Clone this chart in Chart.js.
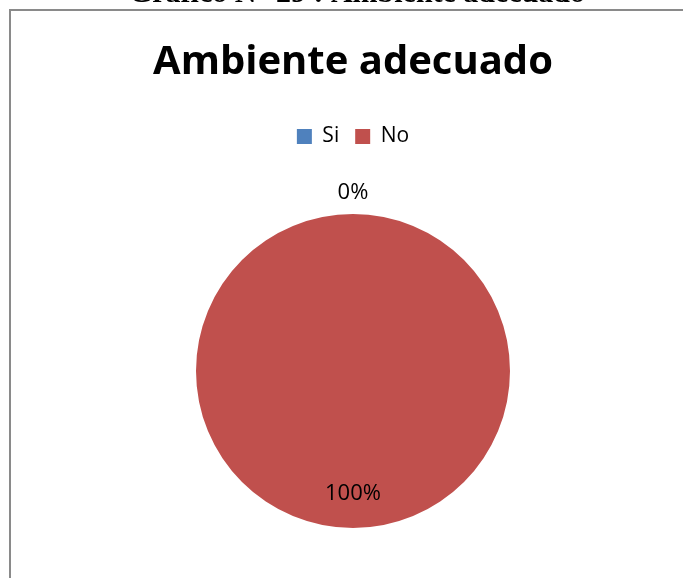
<!DOCTYPE html>
<html>
<head>
<meta charset="utf-8">
<script src="https://cdn.jsdelivr.net/npm/chart.js@4.4.1/dist/chart.umd.min.js"></script>
<style>
  html, body { margin: 0; padding: 0; background: #fff; }
  #wrap { position: relative; width: 683px; height: 578px; overflow: hidden; }
  #frame { position: absolute; left: 9px; top: 9px; width: 700px; height: 600px;
           border-left: 2px solid #8a8a8a; border-top: 2px solid #8a8a8a; }
  canvas { position: absolute; left: 0; top: 0; }
</style>
</head>
<body>
<div id="wrap">
  <div id="frame"></div>
  <canvas id="chart_ambiente" width="683" height="578"></canvas>
</div>
<script>
let labels = ['Si', 'No'];
let values = [0, 100];
let colors = ['#4F81BD', '#C0504D'];
let heading = 'Gráfico N° 29 : Ambiente adecuado';
let chartTitle = 'Ambiente adecuado';

let total = values.reduce((a, b) => a + b, 0);
let labelFont = "'Open Sans', 'Noto Sans', sans-serif";

// clipped heading above the frame
let headingPlugin = {
  id: 'heading',
  beforeDraw(chart) {
    let ctx = chart.ctx;
    ctx.save();
    ctx.font = "bold 30px 'Liberation Serif', 'Times New Roman', serif";
    ctx.fillStyle = '#000';
    ctx.textAlign = 'center';
    ctx.textBaseline = 'alphabetic';
    ctx.fillText(heading, 357, 2);
    ctx.restore();
  }
};

// leave room between legend and pie
let legendGap = {
  id: 'legendGap',
  beforeInit(chart) {
    let fit = chart.legend.fit;
    chart.legend.fit = function() {
      fit.bind(chart.legend)();
      this.height += 57;
    };
  }
};

// percentage labels, 0% outside, others inside
let percentPlugin = {
  id: 'percentLabels',
  afterDatasetsDraw(chart) {
    let ctx = chart.ctx;
    let meta = chart.getDatasetMeta(0);
    ctx.save();
    ctx.font = '22px ' + labelFont;
    ctx.fillStyle = '#000';
    ctx.textAlign = 'center';
    ctx.textBaseline = 'middle';
    meta.data.forEach((arc, i) => {
      let { x, y, startAngle, endAngle, outerRadius } = arc.getProps(['x', 'y', 'startAngle', 'endAngle', 'outerRadius'], true);
      let mid = (startAngle + endAngle) / 2;
      let r = values[i] === 0 ? outerRadius + 21 : outerRadius * 0.78;
      let perc = Math.round(values[i] / total * 100);
      ctx.fillText(perc + '%', x + Math.cos(mid) * r, y + Math.sin(mid) * r);
    });
    ctx.restore();
  }
};

let data = {
  labels: labels,
  datasets: [{
    data: values,
    backgroundColor: colors,
    borderWidth: 0
  }]
};

let options = {
  responsive: false,
  animation: false,
  layout: { padding: { top: 0, bottom: 50, left: 23, right: 0 } },
  plugins: {
    title: {
      display: true,
      text: chartTitle,
      color: '#000',
      font: { family: labelFont, size: 40, weight: 'bold', lineHeight: 1.2 },
      padding: { top: 39, bottom: 23 }
    },
    legend: {
      position: 'top',
      labels: {
        color: '#000',
        boxWidth: 15,
        boxHeight: 15,
        padding: 16,
        font: { family: labelFont, size: 21 }
      }
    },
    tooltip: { enabled: false }
  }
};

new Chart('chart_ambiente', { type: 'pie', plugins: [headingPlugin, legendGap, percentPlugin], data, options });
</script>
</body>
</html>
